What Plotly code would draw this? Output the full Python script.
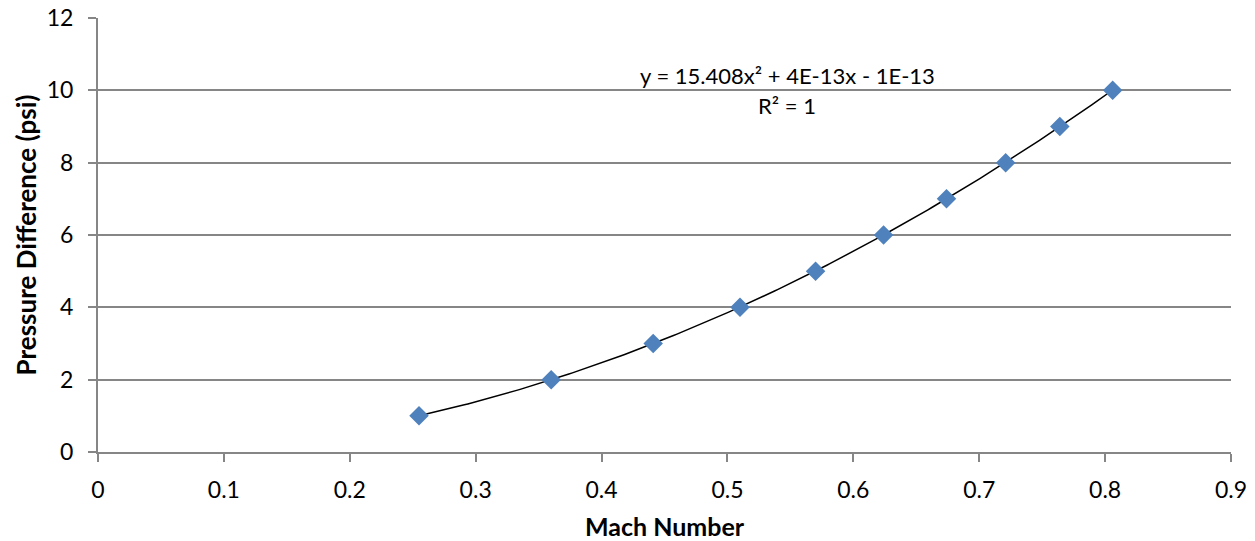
import numpy as np
import plotly.graph_objects as go

mach = [0.255, 0.360, 0.441, 0.510, 0.570, 0.624, 0.674, 0.721, 0.764, 0.806]
pressure = [1, 2, 3, 4, 5, 6, 7, 8, 9, 10]
coef = [15.408, 4e-13, -1e-13]
eq_text = "y = 15.408x² + 4E-13x - 1E-13"
r2_text = "R² = 1"
x_ticks = [0, 0.1, 0.2, 0.3, 0.4, 0.5, 0.6, 0.7, 0.8, 0.9]
x_tick_labels = ["0", "0.1", "0.2", "0.3", "0.4", "0.5", "0.6", "0.7", "0.8", "0.9"]
y_ticks = [0, 2, 4, 6, 8, 10, 12]

xt = np.linspace(min(mach), max(mach), 200)
yt = np.polyval(coef, xt)

FONT = "Lato, 'Open Sans', sans-serif"
GRID = "#868686"

fig = go.Figure()
fig.add_trace(go.Scatter(x=xt, y=yt, mode="lines",
                         line=dict(color="black", width=1.5), showlegend=False))
fig.add_trace(go.Scatter(x=mach, y=pressure, mode="markers",
                         marker=dict(symbol="diamond", size=15, color="#4F81BD",
                                     line=dict(width=0)), showlegend=False))

fig.add_annotation(x=0.5476, y=10.42, xref="x", yref="y", text=eq_text, showarrow=False,
                   font=dict(family=FONT, size=22, color="black"), yanchor="middle")
fig.add_annotation(x=0.5476, y=9.57, xref="x", yref="y", text=r2_text, showarrow=False,
                   font=dict(family=FONT, size=22, color="black"), yanchor="middle")

fig.update_layout(
    width=1255, height=541,
    margin=dict(l=98, r=24, t=18, b=89),
    paper_bgcolor="white", plot_bgcolor="white",
    font=dict(family=FONT, size=23, color="black"),
    xaxis=dict(range=[0, 0.9], tickvals=x_ticks, ticktext=x_tick_labels,
               automargin=False, tickfont=dict(family=FONT, size=23),
               showgrid=False, zeroline=False, showline=True, linecolor=GRID, linewidth=2,
               ticks="outside", ticklen=8, tickcolor=GRID, tickwidth=2, ticklabelstandoff=8,
               title=dict(text="<b>Mach Number</b>", font=dict(family=FONT, size=25), standoff=18)),
    yaxis=dict(range=[0, 12], tickvals=y_ticks, automargin=False,
               tickfont=dict(family=FONT, size=23),
               showgrid=True, gridcolor=GRID, gridwidth=1.5, zeroline=False,
               showline=True, linecolor=GRID, linewidth=2,
               ticks="outside", ticklen=8, tickcolor=GRID, tickwidth=2, ticklabelstandoff=10,
               title=dict(text="<b>Pressure Difference (psi)</b>", font=dict(family=FONT, size=26), standoff=3)),
)

fig.write_html("out.html", config={"displayModeBar": False},
               post_script="document.body.style.margin='0';")
